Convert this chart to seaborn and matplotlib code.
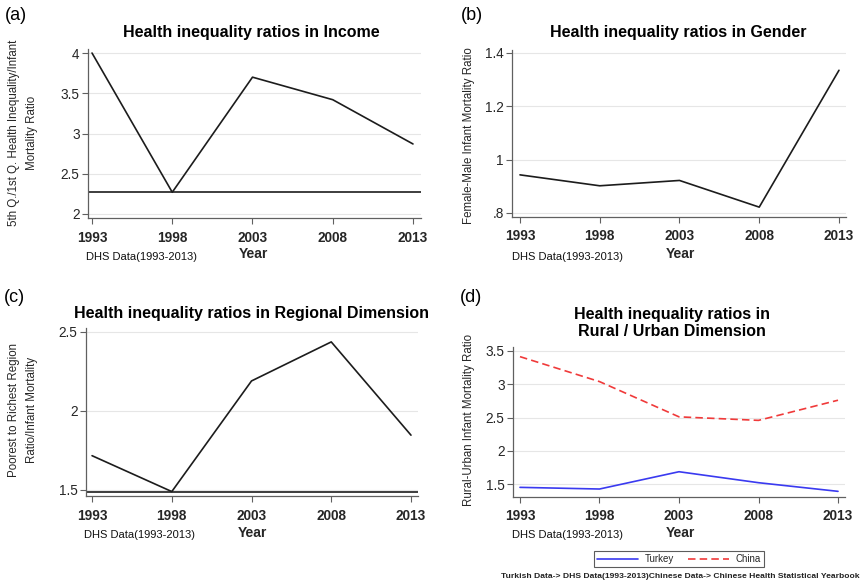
import matplotlib
matplotlib.use("Agg")
import matplotlib.pyplot as plt
import seaborn as sns
import pandas as pd
from matplotlib.lines import Line2D

sns.set_theme(style="white")
plt.rcParams["font.family"] = ["Liberation Sans", "DejaVu Sans"]

years = [1993, 1998, 2003, 2008, 2013]
income_ratio = [4.00, 2.27, 3.70, 3.42, 2.87]
gender_ratio = [0.943, 0.902, 0.922, 0.822, 1.335]
regional_ratio = [1.717, 1.490, 2.190, 2.437, 1.847]
turkey_rural_urban = [1.45, 1.425, 1.685, 1.52, 1.39]
china_rural_urban = [3.415, 3.04, 2.51, 2.457, 2.76]

income_ticks = [2, 2.5, 3, 3.5, 4]
income_ticklabels = ["2", "2.5", "3", "3.5", "4"]
gender_ticks = [0.8, 1.0, 1.2, 1.4]
gender_ticklabels = [".8", "1", "1.2", "1.4"]
regional_ticks = [1.5, 2.0, 2.5]
regional_ticklabels = ["1.5", "2", "2.5"]
rural_ticks = [1.5, 2.0, 2.5, 3.0, 3.5]
rural_ticklabels = ["1.5", "2", "2.5", "3", "3.5"]

W, H = 860, 583
fig = plt.figure(figsize=(W / 100, H / 100), dpi=100)
fig.patch.set_facecolor("white")

LINE = "#1c1c1c"


def px_axes(left, top, right, bottom):
    return fig.add_axes([left / W, 1 - bottom / H, (right - left) / W, (bottom - top) / H])


def fx(x):
    return x / W


def fy(y):
    return 1 - y / H


def style_axes(ax, ylim, xlim, ticks, ticklabels):
    ax.set_xlim(*xlim)
    ax.set_ylim(*ylim)
    ax.set_xticks(years)
    ax.set_xticklabels([str(y) for y in years], fontsize=9.8, fontweight="bold")
    ax.set_yticks(ticks)
    ax.set_yticklabels(ticklabels, fontsize=9.8)
    ax.set_xlabel("")
    ax.set_ylabel("")
    for s in ["top", "right"]:
        ax.spines[s].set_visible(False)
    for s in ["left", "bottom"]:
        ax.spines[s].set_color("#606060")
        ax.spines[s].set_linewidth(0.9)
    ax.tick_params(axis="both", direction="out", length=4, width=0.8, color="#606060",
                   left=True, bottom=True, pad=2)
    ax.tick_params(axis="x", pad=5)
    ax.yaxis.grid(True, color="#e6e6e6", linewidth=0.8)
    ax.xaxis.grid(False)
    ax.set_axisbelow(True)
    if ax.get_legend() is not None:
        ax.get_legend().remove()


def panel(ax, values):
    df = pd.DataFrame({"Year": years, "Ratio": values})
    sns.lineplot(data=df, x="Year", y="Ratio", ax=ax, color=LINE, linewidth=1.2)


# (a) income
ax_a = px_axes(88, 49, 421, 218)
panel(ax_a, income_ratio)
ax_a.axhline(min(income_ratio), color=LINE, linewidth=1.2)
style_axes(ax_a, (1.95, 4.05), (1992.75, 2013.5), income_ticks, income_ticklabels)

# (b) gender
ax_b = px_axes(512, 50, 846, 217)
panel(ax_b, gender_ratio)
style_axes(ax_b, (0.785, 1.411), (1992.5, 2013.44), gender_ticks, gender_ticklabels)

# (c) regional
ax_c = px_axes(86, 328, 418, 496)
panel(ax_c, regional_ratio)
ax_c.axhline(min(regional_ratio), color=LINE, linewidth=1.2)
style_axes(ax_c, (1.462, 2.525), (1992.62, 2013.44), regional_ticks, regional_ticklabels)

# (d) rural / urban
ax_d = px_axes(513, 347, 845, 497)
df_d = pd.DataFrame({
    "Year": years * 2,
    "Ratio": turkey_rural_urban + china_rural_urban,
    "Country": ["Turkey"] * len(years) + ["China"] * len(years),
})
sns.lineplot(data=df_d, x="Year", y="Ratio", hue="Country", style="Country",
             palette={"Turkey": "#3a3af0", "China": "#f03a3a"},
             dashes={"Turkey": "", "China": (4.5, 2.5)}, linewidth=1.2, ax=ax_d)
style_axes(ax_d, (1.305, 3.56), (1992.56, 2013.44), rural_ticks, rural_ticklabels)

# titles
title_kw = dict(fontsize=11.5, fontweight="bold", ha="center", va="center", color="black")
fig.text(fx(251), fy(33), "Health inequality ratios in Income", **title_kw)
fig.text(fx(678), fy(33), "Health inequality ratios in Gender", **title_kw)
fig.text(fx(252), fy(314), "Health inequality ratios in Regional Dimension", **title_kw)
fig.text(fx(672), fy(323), "Health inequality ratios in\nRural / Urban Dimension",
         linespacing=1.2, **title_kw)

# panel letters
for lbl, x, y in [("(a)", 5, 15), ("(b)", 461, 15), ("(c)", 4, 298), ("(d)", 460, 298)]:
    fig.text(fx(x), fy(y), lbl, fontsize=13, ha="left", va="center", color="black")

# y-axis labels
ylab_kw = dict(fontsize=8.3, rotation=90, ha="center", va="center",
               multialignment="center", linespacing=1.75)
fig.text(fx(23), fy(133), "5th Q./1st Q. Health Inequality/Infant\nMortality Ratio", **ylab_kw)
fig.text(fx(469), fy(136), "Female-Male Infant Mortality Ratio", **ylab_kw)
fig.text(fx(23), fy(410), "Poorest to Richest Region\nRatio/Infant Mortality", **ylab_kw)
fig.text(fx(469), fy(420), "Rural-Urban Infant Mortality Ratio", **ylab_kw)

# x-axis titles and source notes
for yx, yy, sx, sy in [(253, 254, 141, 257), (680, 254, 567, 257),
                       (252, 533, 140, 535), (680, 533, 568, 535)]:
    fig.text(fx(yx), fy(yy), "Year", fontsize=10, fontweight="bold", ha="center", va="center")
    fig.text(fx(sx), fy(sy), "DHS Data(1993-2013)", fontsize=8, ha="center", va="center",
             color="#111111")

# legend for (d)
handles = [Line2D([], [], color="#3a3af0", linewidth=1.2),
           Line2D([], [], color="#f03a3a", linewidth=1.2, linestyle=(0, (4.5, 2.5)))]
leg = fig.legend(handles, ["Turkey", "China"], loc="center", bbox_to_anchor=(fx(679), fy(559)),
                 ncol=2, fontsize=7, frameon=True, fancybox=False, handlelength=4.2,
                 columnspacing=1.4, borderpad=0.3, handletextpad=0.7)
leg.get_frame().set_edgecolor("#333333")
leg.get_frame().set_linewidth(0.8)

fig.text(fx(680), fy(576),
         "Turkish Data-> DHS Data(1993-2013)Chinese Data-> Chinese Health Statistical Yearbook",
         fontsize=6.1, fontweight="bold", ha="center", va="center", color="#222222")

fig.savefig("out.png", dpi=100, facecolor="white")
